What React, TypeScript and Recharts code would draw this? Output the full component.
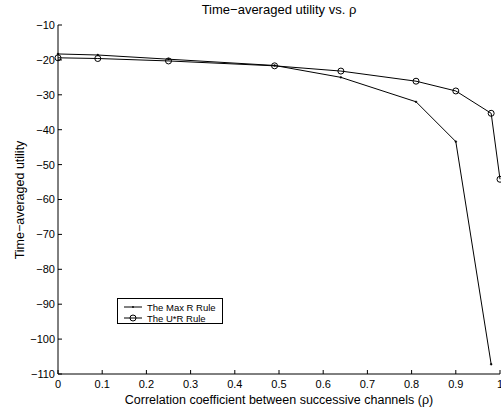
import React from 'react';
import { LineChart, Line, XAxis, YAxis, Legend, Label } from 'recharts';

const rho = [0, 0.09, 0.25, 0.49, 0.64, 0.81, 0.9, 0.98, 1.0];
const maxR: (number | null)[] = [-18.3, -18.6, -19.8, -21.6, -25.0, -32.0, -43.4, -107.2, null];
const uStarR = [-19.4, -19.6, -20.3, -21.7, -23.2, -26.1, -28.9, -35.3, -54.2];
const xTicks = [0, 0.1, 0.2, 0.3, 0.4, 0.5, 0.6, 0.7, 0.8, 0.9, 1];
const yTicks = [-110, -100, -90, -80, -70, -60, -50, -40, -30, -20, -10];
const seriesNames = ['The Max R Rule', 'The U*R Rule'];

const data = rho.map((r, i) => ({ rho: r, maxR: maxR[i], uStarR: uStarR[i] }));

const FONT = '"Liberation Sans", Arial, Helvetica, sans-serif';
const fmtNum = (v: number) => String(v).replace('-', '\u2212');
const blank = () => '';

const renderLegend = () => (
  <div
    style={{
      border: '1px solid #000',
      background: '#fff',
      width: 106,
      height: 26,
      boxSizing: 'border-box',
      fontFamily: FONT,
      fontSize: 9.5,
      color: '#000',
    }}
  >
    <svg width={104} height={24} style={{ display: 'block' }}>
      <line x1={6} y1={8} x2={24} y2={8} stroke="#000" strokeWidth={1} />
      <circle cx={15} cy={8} r={0.9} fill="#000" />
      <text x={29} y={8} dominantBaseline="central" fontSize={9.5} fontFamily={FONT}>
        {seriesNames[0]}
      </text>
      <line x1={6} y1={19} x2={24} y2={19} stroke="#000" strokeWidth={1} />
      <circle cx={15} cy={19} r={3} fill="none" stroke="#000" strokeWidth={1} />
      <text x={29} y={19} dominantBaseline="central" fontSize={9.5} fontFamily={FONT}>
        {seriesNames[1]}
      </text>
    </svg>
  </div>
);

export default function App() {
  const tickStyle = { fill: '#000', fontSize: 11, fontFamily: FONT };
  return (
    <div style={{ position: 'absolute', left: 0, top: 0, width: 501, height: 415, background: '#fff', fontFamily: FONT }}>
      <div
        style={{
          position: 'absolute',
          left: 58,
          width: 442,
          top: 2,
          textAlign: 'center',
          fontSize: 13,
          fontFamily: FONT,
          color: '#000',
        }}
      >
        Time{'\u2212'}averaged utility vs. ρ
      </div>
      <LineChart width={501} height={415} data={data} margin={{ top: 25, right: 1, bottom: 0, left: 0 }}>
        <XAxis
          dataKey="rho"
          type="number"
          domain={[0, 1]}
          ticks={xTicks}
          height={41}
          tick={tickStyle}
          tickSize={-4}
          tickMargin={10}
          tickFormatter={(v: number) => String(v)}
          axisLine={{ stroke: '#000' }}
          tickLine={{ stroke: '#000' }}
          interval={0}
        >
          <Label
            value="Correlation coefficient between successive channels (ρ)"
            position="insideBottom"
            offset={11}
            style={{ fill: '#000', fontSize: 12.5, fontFamily: FONT }}
          />
        </XAxis>
        <XAxis
          xAxisId="top"
          orientation="top"
          dataKey="rho"
          type="number"
          domain={[0, 1]}
          ticks={xTicks}
          height={0}
          tickSize={-4}
          tickFormatter={blank}
          axisLine={{ stroke: '#000' }}
          tickLine={{ stroke: '#000' }}
          interval={0}
        />
        <YAxis
          type="number"
          domain={[-110, -10]}
          ticks={yTicks}
          width={58}
          tick={tickStyle}
          tickSize={-4}
          tickMargin={7}
          tickFormatter={fmtNum}
          axisLine={{ stroke: '#000' }}
          tickLine={{ stroke: '#000' }}
          interval={0}
        >
          <Label
            content={() => (
              <text
                x={20}
                y={200}
                transform="rotate(-90 20 200)"
                textAnchor="middle"
                dominantBaseline="central"
                fontSize={12.5}
                fontFamily={FONT}
                fill="#000"
              >
                Time{'\u2212'}averaged utility
              </text>
            )}
          />
        </YAxis>
        <YAxis
          yAxisId="right"
          orientation="right"
          type="number"
          domain={[-110, -10]}
          ticks={yTicks}
          width={0}
          tickSize={-4}
          tickFormatter={blank}
          axisLine={{ stroke: '#000' }}
          tickLine={{ stroke: '#000' }}
          interval={0}
        />
        <Legend
          layout="vertical"
          align="center"
          verticalAlign="middle"
          content={renderLegend}
          wrapperStyle={{ position: 'absolute', left: 117, top: 298, width: 106, height: 26 }}
        />
        <Line
          dataKey="maxR"
          name={seriesNames[0]}
          stroke="#000"
          strokeWidth={1}
          dot={{ r: 0.9, fill: '#000', stroke: '#000', strokeWidth: 0.5 }}
          isAnimationActive={false}
        />
        <Line
          dataKey="uStarR"
          name={seriesNames[1]}
          stroke="#000"
          strokeWidth={1}
          dot={{ r: 3, fill: 'none', stroke: '#000', strokeWidth: 1 }}
          isAnimationActive={false}
        />
      </LineChart>
    </div>
  );
}
